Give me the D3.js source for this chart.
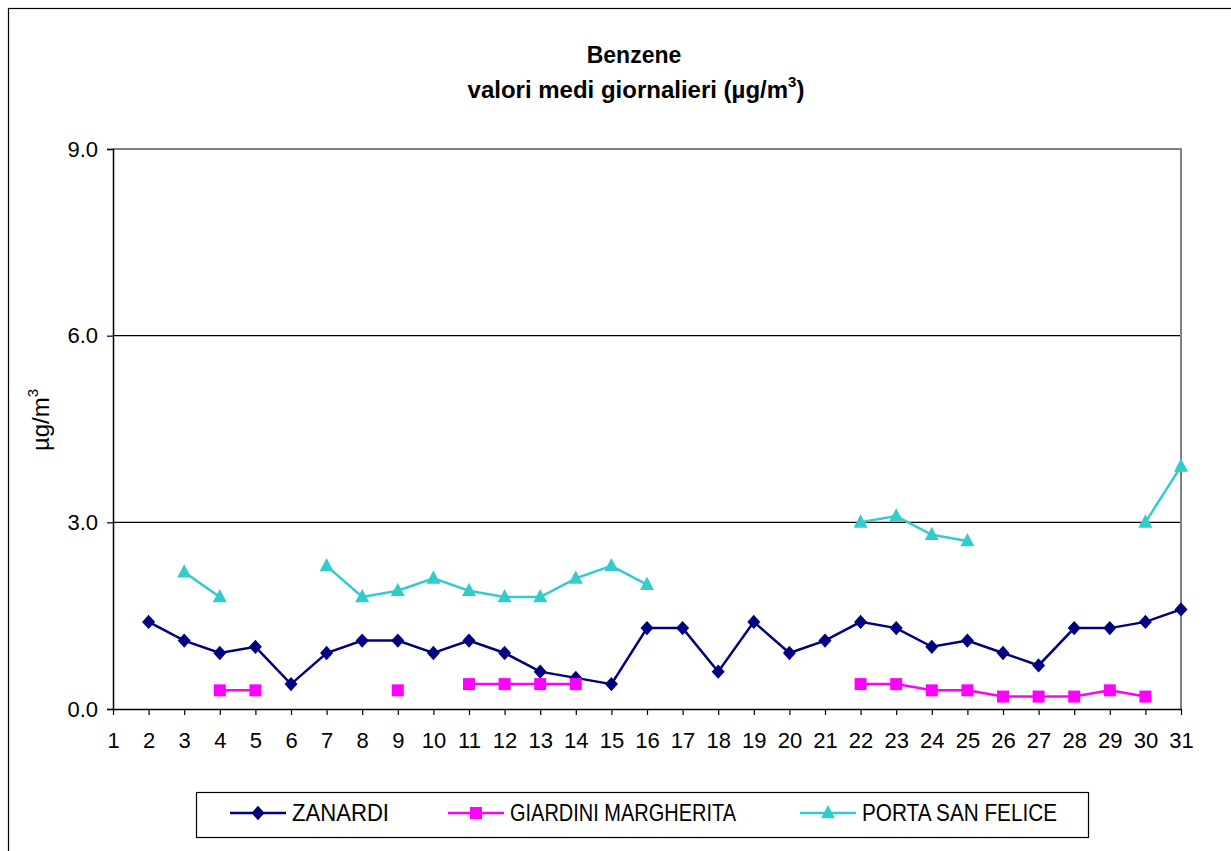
<!DOCTYPE html>
<html><head><meta charset="utf-8">
<script src="https://cdn.jsdelivr.net/npm/d3@7/dist/d3.min.js"></script>
<style>body{margin:0;background:#fff}svg{display:block}text{font-family:"Liberation Sans",Arial,sans-serif}</style>
</head><body><svg id="c" width="1231" height="851"></svg>
<script>
const days = d3.range(1, 32);
const yTicks = [0, 3, 6, 9];
const zanardi = [null,1.4,1.1,0.9,1.0,0.4,0.9,1.1,1.1,0.9,1.1,0.9,0.6,0.5,0.4,1.3,1.3,0.6,1.4,0.9,1.1,1.4,1.3,1.0,1.1,0.9,0.7,1.3,1.3,1.4,1.6];
const giardini = [null,null,null,0.3,0.3,null,null,null,0.3,null,0.4,0.4,0.4,0.4,null,null,null,null,null,null,null,0.4,0.4,0.3,0.3,0.2,0.2,0.2,0.3,0.2,null];
const porta = [null,null,2.2,1.8,null,null,2.3,1.8,1.9,2.1,1.9,1.8,1.8,2.1,2.3,2.0,null,null,null,null,null,3.0,3.1,2.8,2.7,null,null,null,null,3.0,3.9];
const seriesNames = ["ZANARDI","GIARDINI MARGHERITA","PORTA SAN FELICE"];
const seriesColors = ["#000080","#FF00FF","#33CCCC"];
const seriesValues = [zanardi, giardini, porta];

// custom marker shapes (size = nominal width in px)
const diamond = {draw(ctx, s){ const w=s/2, h=s*0.55; ctx.moveTo(0,-h); ctx.lineTo(w,0); ctx.lineTo(0,h); ctx.lineTo(-w,0); ctx.closePath(); }};
const square = {draw(ctx, s){ const h=s/2; ctx.rect(-h,-h,s,s); }};
const triangle = {draw(ctx, s){ const w=s/2, h=s*0.95; ctx.moveTo(0,-h*0.6); ctx.lineTo(w,h*0.4); ctx.lineTo(-w,h*0.4); ctx.closePath(); }};
const seriesSymbols = [diamond, square, triangle];
const symSizes = [13, 12, 14];

const svg = d3.select("#c");
const L = 113, R = 1181, T = 149, B = 709;
const x = d3.scaleLinear().domain([1,31]).range([L,R]);
const y = d3.scaleLinear().domain([0,9]).range([B,T]);

// outer chart border
svg.append("rect").attr("x",8.5).attr("y",8.5).attr("width",1240).attr("height",860)
  .attr("fill","none").attr("stroke","#000").attr("stroke-width",1.2);

// title
svg.append("text").attr("x",634).attr("y",63).attr("text-anchor","middle")
  .attr("font-size",23).attr("font-weight","bold").text("Benzene");
const t2 = svg.append("text").attr("x",636).attr("y",98).attr("text-anchor","middle")
  .attr("font-size",24).attr("font-weight","bold");
t2.append("tspan").text("valori medi giornalieri (µg/m");
t2.append("tspan").attr("font-size",15).attr("dy",-11).text("3");
t2.append("tspan").attr("dy",11).text(")");

// gridlines
svg.append("g").selectAll("line").data(yTicks.filter(v=>v>0 && v<9)).join("line")
  .attr("x1",L).attr("x2",R).attr("y1",d=>y(d)).attr("y2",d=>y(d))
  .attr("stroke","#000").attr("stroke-width",1.2);
// plot border top/right gray
svg.append("path").attr("d",`M${L},${y(9)}H${R}V${B}`).attr("fill","none")
  .attr("stroke","#808080").attr("stroke-width",2);

// y axis
const ya = svg.append("g").attr("transform",`translate(${L},0)`)
  .call(d3.axisLeft(y).tickValues(yTicks).tickFormat(d3.format(".1f")).tickSize(6).tickPadding(9));
ya.select(".domain").attr("stroke","#000").attr("stroke-width",1.5);
ya.selectAll("text").attr("font-size",22).attr("fill","#000").attr("font-family","Liberation Sans, Arial, sans-serif");
ya.selectAll(".tick line").attr("stroke","#000").attr("stroke-width",1.2);

// x axis
const xa = svg.append("g").attr("transform",`translate(0,${B})`)
  .call(d3.axisBottom(x).tickValues(days).tickFormat(d3.format("d")).tickSize(6).tickPadding(17).tickSizeOuter(0));
xa.select(".domain").attr("stroke","#000").attr("stroke-width",1.5);
xa.selectAll("text").attr("font-size",22).attr("fill","#000").attr("font-family","Liberation Sans, Arial, sans-serif");
xa.selectAll(".tick line").attr("stroke","#000").attr("stroke-width",1.2);

// y label
svg.append("text").attr("transform","translate(49,420) rotate(-90)").attr("text-anchor","middle")
  .attr("font-size",24)
  .call(s=>{s.append("tspan").text("µg/m");s.append("tspan").attr("font-size",15).attr("dy",-11).text("3");});

// series
const line = d3.line().defined(d=>d.v!==null).x(d=>x(d.d)).y(d=>y(d.v));
seriesValues.forEach((vals,i)=>{
  const data = vals.map((v,j)=>({d:days[j],v}));
  svg.append("path").datum(data).attr("d",line).attr("fill","none")
    .attr("stroke",seriesColors[i]).attr("stroke-width",2.5);
  svg.append("g").selectAll("path").data(data.filter(d=>d.v!==null)).join("path")
    .attr("transform",d=>`translate(${x(d.d)},${y(d.v)})`)
    .attr("d",d3.symbol().type(seriesSymbols[i]).size(symSizes[i]))
    .attr("fill",seriesColors[i]);
});

// legend
svg.append("rect").attr("x",196.5).attr("y",792.5).attr("width",892).attr("height",45)
  .attr("fill","#fff").attr("stroke","#000").attr("stroke-width",1.2);
const legX = [230, 448, 800];
const legTextW = [97, 226, 195];
seriesNames.forEach((n,i)=>{
  const g = svg.append("g").attr("transform",`translate(${legX[i]},813)`);
  g.append("line").attr("x1",0).attr("x2",56).attr("stroke",seriesColors[i]).attr("stroke-width",2.5);
  g.append("path").attr("transform","translate(28,0)").attr("d",d3.symbol().type(seriesSymbols[i]).size(symSizes[i])).attr("fill",seriesColors[i]);
  g.append("text").attr("x",62).attr("y",8).attr("font-size",24).attr("textLength", legTextW[i]).attr("lengthAdjust","spacingAndGlyphs").text(n);
});
</script></body></html>
